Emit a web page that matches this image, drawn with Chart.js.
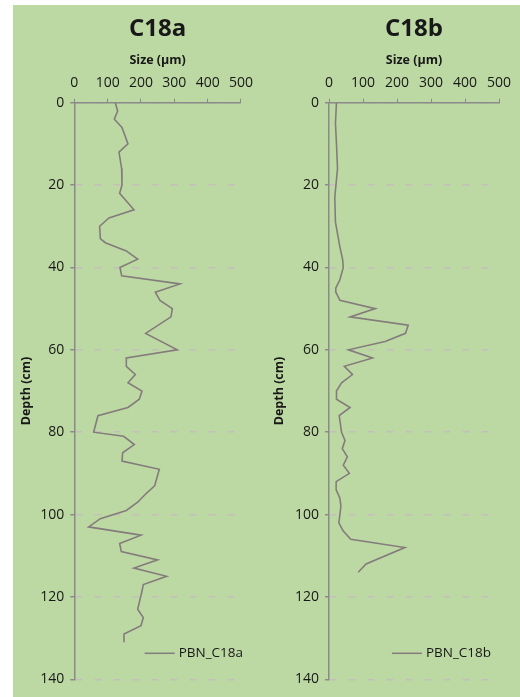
<!DOCTYPE html>
<html>
<head>
<meta charset="utf-8">
<script src="https://cdn.jsdelivr.net/npm/chart.js@4"></script>
<style>
  body { margin: 0; background: #fff; }
  #panel { position: absolute; left: 13px; top: 5px; width: 507px; height: 692px; background: #bdd9a3; }
  canvas { position: absolute; top: 0; }
</style>
</head>
<body>
<div id="panel">
  <canvas id="chartA" style="left:0px" width="247" height="692"></canvas>
  <canvas id="chartB" style="left:247px" width="260" height="692"></canvas>
</div>
<script>
// --- data ---
const depthA = [0, 2, 4, 6, 10, 12, 16, 20, 22, 26, 28, 30, 33, 34, 36, 38, 40, 42, 44, 46, 48, 50, 52, 56, 60, 62, 64, 66, 68, 70, 72, 74, 76, 80, 81, 83, 85, 87, 89, 93, 95, 97, 99, 101, 103, 105, 107, 109, 111, 113, 115, 117, 119, 123, 125, 127, 129, 131];
const sizeA = [123, 130, 120, 143, 161, 134, 142, 143, 136, 179, 104, 76, 78, 93, 156, 190, 137, 142, 317, 243, 257, 294, 290, 214, 309, 156, 156, 183, 161, 203, 195, 161, 71, 58, 148, 180, 145, 143, 255, 241, 214, 190, 156, 78, 43, 200, 136, 141, 250, 179, 277, 207, 202, 190, 207, 200, 149, 149];

const depthB = [0, 5, 10, 16, 23, 29, 35, 38, 40, 43, 45, 46, 48, 50, 52, 54, 56, 58, 60, 62, 64, 66, 68, 70, 72, 74, 76, 80, 82, 84, 86, 88, 90, 92, 94, 96, 98, 102, 104, 106, 108, 112, 114];
const sizeB = [22, 19, 22, 25, 17, 19, 32, 40, 42, 32, 20, 20, 32, 136, 62, 233, 225, 165, 57, 128, 45, 69, 37, 22, 22, 62, 30, 37, 47, 39, 54, 42, 60, 21, 21, 32, 35, 29, 42, 64, 223, 109, 86];

const sizeTicks = { min: 0, max: 500, step: 100 };
const depthTicks = { min: 0, max: 140, step: 20 };

const FONT = "'Open Sans', sans-serif";
const LINE_COLOR = "#847c7c";
const AXIS_COLOR = "#8a8a8a";
const TEXT_COLOR = "#181818";

// legend drawn inside the plot area, bottom right (like the Excel original)
const insideLegend = {
  id: "insideLegend",
  afterDatasetsDraw(chart, args, opts) {
    const { ctx, chartArea } = chart;
    const ds = chart.data.datasets[0];
    const y = chartArea.bottom - 26;
    ctx.save();
    ctx.font = "13.5px " + FONT;
    const w = ctx.measureText(ds.label).width;
    const textX = chartArea.right + opts.offset - w;
    ctx.strokeStyle = ds.borderColor;
    ctx.lineWidth = 1.5;
    ctx.beginPath();
    ctx.moveTo(textX - 34, y);
    ctx.lineTo(textX - 4, y);
    ctx.stroke();
    ctx.fillStyle = TEXT_COLOR;
    ctx.textBaseline = "middle";
    ctx.fillText(ds.label, textX, y);
    ctx.restore();
  },
};

function makeChart(id, title, label, depths, sizes, cfg) {
  const points = depths.map((d, i) => ({ x: sizes[i], y: d }));
  return new Chart(document.getElementById(id), {
    type: "scatter",
    data: {
      datasets: [
        {
          label: label,
          data: points,
          showLine: true,
          borderColor: LINE_COLOR,
          borderWidth: 1.6,
          pointRadius: 0,
          tension: 0,
        },
      ],
    },
    plugins: [insideLegend],
    options: {
      responsive: false,
      animation: false,
      layout: { padding: { left: 0, top: 0, right: cfg.padRight, bottom: 17.7 } },
      plugins: {
        legend: { display: false },
        tooltip: { enabled: false },
        title: {
          display: true,
          fullSize: false,
          text: title,
          color: TEXT_COLOR,
          font: { family: FONT, size: 24, weight: "bold" },
          padding: { top: 10, bottom: 0 },
        },
        insideLegend: { offset: cfg.legendOffset },
      },
      scales: {
        x: {
          type: "linear",
          position: "top",
          min: sizeTicks.min,
          max: sizeTicks.max,
          afterFit: (s) => { s.height = 58.9; },
          ticks: { stepSize: sizeTicks.step, color: TEXT_COLOR, font: { family: FONT, size: 14 }, padding: 7 },
          grid: { drawOnChartArea: false, drawTicks: true, tickLength: 4, color: AXIS_COLOR },
          border: { color: AXIS_COLOR, width: 1.5 },
          title: {
            display: true,
            text: "Size (µm)",
            color: TEXT_COLOR,
            font: { family: FONT, size: 12.5, weight: "bold" },
            padding: { top: 9, bottom: 0 },
          },
        },
        y: {
          type: "linear",
          reverse: true,
          min: depthTicks.min,
          max: depthTicks.max,
          afterFit: (s) => { s.width = cfg.yWidth; },
          ticks: { stepSize: depthTicks.step, color: TEXT_COLOR, font: { family: FONT, size: 14 }, padding: 6 },
          grid: {
            color: "#c4bfba",
            lineWidth: 1.5,
            tickColor: AXIS_COLOR,
            tickLength: 4,
            tickBorderDash: [],
          },
          border: { color: AXIS_COLOR, width: 1.5, dash: [7, 12] },
          title: {
            display: true,
            text: "Depth (cm)",
            color: TEXT_COLOR,
            font: { family: FONT, size: 12.5, weight: "bold" },
            padding: { top: cfg.yTitlePad, bottom: 0 },
          },
        },
      },
    },
  });
}

makeChart("chartA", "C18a", "PBN_C18a", depthA, sizeA, { yWidth: 61.3, padRight: 14.7, yTitlePad: 6, legendOffset: 2 });
makeChart("chartB", "C18b", "PBN_C18b", depthB, sizeB, { yWidth: 69, padRight: 21, yTitlePad: 12, legendOffset: -8 });
</script>
</body>
</html>
